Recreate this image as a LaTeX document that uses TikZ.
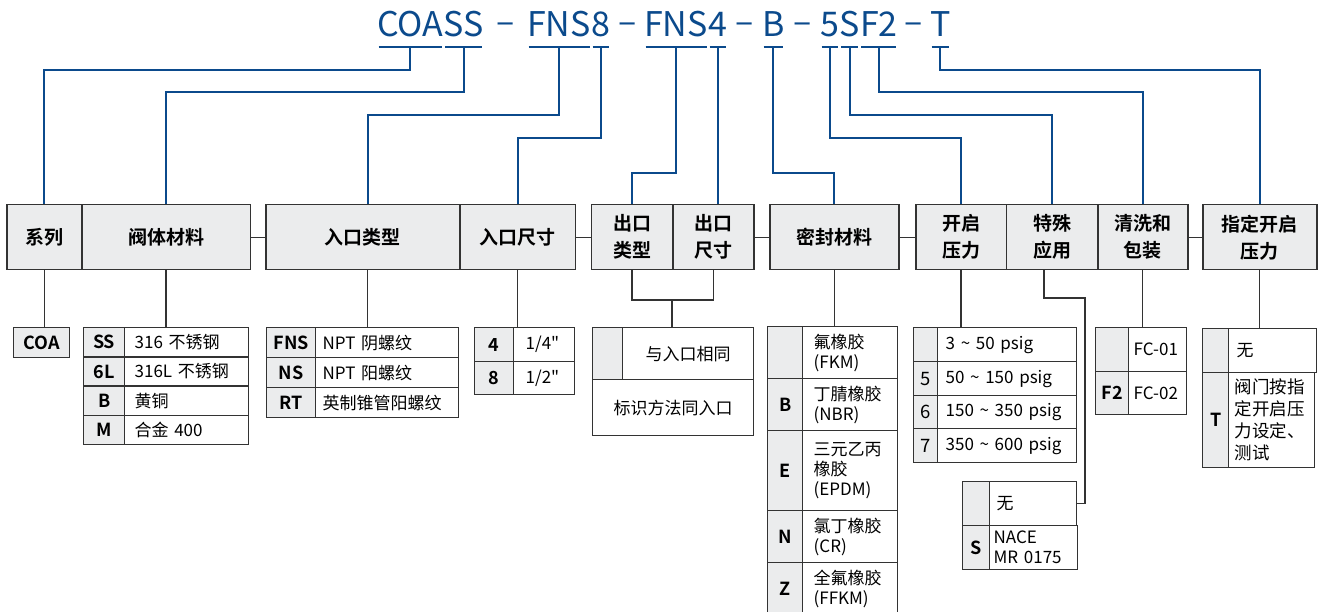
\documentclass[tikz,border=0pt]{standalone}
\usepackage{fontspec}
\setmainfont{Noto Sans CJK SC}[BoldFont={* Bold},Ligatures=TeXOff]
\usetikzlibrary{calc}
\definecolor{tblue}{HTML}{0B4A8C}
\definecolor{cgray}{HTML}{EBECED}
\definecolor{bgray}{HTML}{333333}
\begin{document}
\begin{tikzpicture}[x=1pt,y=-1pt,
  ttl/.style={inner sep=0, text=tblue, font=\fontsize{34}{40}\selectfont, anchor=base west},
  dsh/.style={inner sep=0, text=tblue, font=\fontsize{34}{40}\selectfont, anchor=base, yshift=3pt},
  ul/.style={draw=tblue, line width=2.5},
  bl/.style={draw=tblue, line width=2},
  hd/.style={draw=bgray, line width=1.5, fill=cgray, anchor=north west, minimum height=65, inner sep=0, align=center, font=\bfseries\fontsize{19}{27}\selectfont},
  gl/.style={draw=bgray, line width=1.3},
  cell/.style={draw=bgray, line width=1.3, anchor=north west, inner sep=0},
  code/.style={cell, fill=cgray, align=center, font=\bfseries\fontsize{18}{20}\selectfont},
  coder/.style={cell, fill=cgray, align=center, font=\fontsize{18.5}{20}\selectfont},
  desc/.style={cell, fill=white, align=left, font=\fontsize{17}{20}\selectfont},
  descc/.style={cell, fill=white, align=center, font=\fontsize{17}{20}\selectfont}]
\useasboundingbox[fill=white] (0,0) rectangle (1318,612);

% ---------- title ----------
\node[ttl] (t1) at (377,37) {COA};
\node[ttl] (t2) at (t1.base east) {SS};
\node[ttl] (t3) at (527,37) {FNS};
\node[ttl] (t4) at (t3.base east) {8};
\node[ttl] (t5) at (644,37) {FNS};
\node[ttl] (t6) at (t5.base east) {4};
\node[ttl] (t7) at (762,37) {B};
\node[ttl] (t8) at (820,37) {5};
\node[ttl] (t9) at (t8.base east) {S};
\node[ttl] (t10) at (t9.base east) {F2};
\node[ttl] (t11) at (930,37) {T};
\node[dsh] (d1) at ($(t2.base east)!0.5!(t3.base west)$) {–};
\node[dsh] (d2) at ($(t4.base east)!0.5!(t5.base west)$) {–};
\node[dsh] (d3) at ($(t6.base east)!0.5!(t7.base west)$) {–};
\node[dsh] (d4) at ($(t7.base east)!0.5!(t8.base west)$) {–};
\node[dsh] (d5) at ($(t10.base east)!0.5!(t11.base west)$) {–};
\foreach \n in {t1,t2,t3,t4,t5,t6,t7,t8,t9,t10,t11}
  \draw[ul] ($(\n.west|-0,47)+(1.5,0)$) -- ($(\n.east|-0,47)+(-1.5,0)$);

% ---------- header boxes ----------
\node[hd, minimum width=75] (h1) at (6,204) {系列};
\node[hd, minimum width=168.5] (h2) at (81,204) {阀体材料};
\node[hd, minimum width=194] (h3) at (265,204) {入口类型};
\node[hd, minimum width=115.5] (h4) at (459,204) {入口尺寸};
\node[hd, minimum width=81.5] (h5) at (590.5,204) {出口\\类型};
\node[hd, minimum width=81] (h6) at (672,204) {出口\\尺寸};
\node[hd, minimum width=129] (h7) at (769,204) {密封材料};
\node[hd, minimum width=90.5] (h8) at (915,204) {开启\\压力};
\node[hd, minimum width=91.5] (h9) at (1005.5,204) {特殊\\应用};
\node[hd, minimum width=90] (h10) at (1097,204) {清洗和\\包装};
\node[hd, minimum width=114] (h11) at (1202,204) {指定开启\\压力};

\draw[gl] (h2.east) -- (h3.west);
\draw[gl] (h4.east) -- (h5.west);
\draw[gl] (h6.east) -- (h7.west);
\draw[gl] (h7.east) -- (h8.west);
\draw[gl] (h10.east) -- (h11.west);

% ---------- blue connectors ----------
\draw[bl] (t1.south|-0,47) -- (t1.south|-0,70) -| (h1.north);
\draw[bl] (t2.south|-0,47) -- (t2.south|-0,92) -| (h2.north);
\draw[bl] (t3.south|-0,47) -- (t3.south|-0,115) -| ([xshift=5]h3.north);
\draw[bl] (t4.south|-0,47) -- (t4.south|-0,138) -| (h4.north);
\draw[bl] (t5.south|-0,47) -- (t5.south|-0,173) -| (h5.north);
\draw[bl] (t6.south|-0,47) -- (t6.south|-h6.north);
\draw[bl] (t7.south|-0,47) -- (t7.south|-0,173) -| (h7.north);
\draw[bl] (t8.south|-0,47) -- (t8.south|-0,138) -| (h8.north);
\draw[bl] (t9.south|-0,47) -- (t9.south|-0,115) -| (h9.north);
\draw[bl] (t10.south|-0,47) -- (t10.south|-0,92) -| (h10.north);
\draw[bl] (t11.south|-0,47) -- (t11.south|-0,70) -| (h11.north);

% ---------- series ----------
\node[code, minimum width=56, minimum height=30] (coa) at (13,327) {COA};
\draw[gl] (h1.south) -- (h1.south|-coa.north);

% ---------- body material ----------
\node[code, minimum width=41, minimum height=29.25] (ss1c) at (83,327) {SS};
\node[desc, text width=104, inner xsep=10, minimum height=29.25] (ss1d) at (124,327) {316 不锈钢};
\node[code, minimum width=41, minimum height=29.25] (ss2c) at (83,356.25) {6L};
\node[desc, text width=104, inner xsep=10, minimum height=29.25] (ss2d) at (124,356.25) {316L 不锈钢};
\node[code, minimum width=41, minimum height=29.25] (ss3c) at (83,385.5) {B};
\node[desc, text width=104, inner xsep=10, minimum height=29.25] (ss3d) at (124,385.5) {黄铜};
\node[code, minimum width=41, minimum height=29.25] (ss4c) at (83,414.75) {M};
\node[desc, text width=104, inner xsep=10, minimum height=29.25] (ss4d) at (124,414.75) {合金 400};
\draw[gl] (h2.south) -- (h2.south|-ss1d.north);

% ---------- inlet type ----------
\node[code, minimum width=49, minimum height=30] (fn1c) at (266,327) {FNS};
\node[desc, text width=129, inner xsep=7, minimum height=30] (fn1d) at (315,327) {NPT 阴螺纹};
\node[code, minimum width=49, minimum height=30] (fn2c) at (266,357) {NS};
\node[desc, text width=129, inner xsep=7, minimum height=30] (fn2d) at (315,357) {NPT 阳螺纹};
\node[code, minimum width=49, minimum height=30] (fn3c) at (266,387) {RT};
\node[desc, text width=129, inner xsep=7, minimum height=30] (fn3d) at (315,387) {英制锥管阳螺纹};
\draw[gl] ([xshift=5]h3.south) -- ([xshift=5]h3.south|-fn1d.north);

% ---------- inlet size ----------
\node[code, minimum width=39, minimum height=34] (sz1c) at (474,327) {4};
\node[desc, text width=37, inner xsep=12, minimum height=34] (sz1d) at (513,327) {1/4"};
\node[code, minimum width=39, minimum height=33] (sz2c) at (474,361) {8};
\node[desc, text width=37, inner xsep=12, minimum height=33] (sz2d) at (513,361) {1/2"};
\draw[gl] (h4.south) -- (h4.south|-sz1c.north);

% ---------- outlet ----------
\node[code, minimum width=30, minimum height=52] (ou1c) at (592,327) {};
\node[descc, minimum width=131, minimum height=52] (ou1d) at (622,327) {与入口相同};
\node[descc, minimum width=161, minimum height=56] (ou2) at (592,379) {标识方法同入口};
\coordinate (ob) at (672,300);
\draw[gl] (h5.south) |- (ob) -| (h6.south);
\draw[gl] (ob) -- (ob|-ou1d.north);

% ---------- seal material ----------
\node[code, minimum width=35, minimum height=52] (se1c) at (767,326) {};
\node[desc, text width=73, inner xsep=11, minimum height=52] (se1d) at (802,326) {氟橡胶\\(FKM)};
\node[code, minimum width=35, minimum height=52] (se2c) at (767,378) {B};
\node[desc, text width=73, inner xsep=11, minimum height=52] (se2d) at (802,378) {丁腈橡胶\\(NBR)};
\node[code, minimum width=35, minimum height=80] (se3c) at (767,430) {E};
\node[desc, text width=73, inner xsep=11, minimum height=80] (se3d) at (802,430) {三元乙丙\\橡胶\\(EPDM)};
\node[code, minimum width=35, minimum height=52] (se4c) at (767,510) {N};
\node[desc, text width=73, inner xsep=11, minimum height=52] (se4d) at (802,510) {氯丁橡胶\\(CR)};
\node[code, minimum width=35, minimum height=52] (se5c) at (767,562) {Z};
\node[desc, text width=73, inner xsep=11, minimum height=52] (se5d) at (802,562) {全氟橡胶\\(FFKM)};
\draw[gl] (h7.south) -- (h7.south|-se1d.north);

% ---------- cracking pressure ----------
\node[coder, minimum width=24, minimum height=34] (pr1c) at (913,327) {};
\node[desc, text width=123, inner xsep=8, minimum height=34] (pr1d) at (937,327) {3 \textasciitilde{} 50 psig};
\node[coder, minimum width=24, minimum height=34] (pr2c) at (913,361) {5};
\node[desc, text width=123, inner xsep=8, minimum height=34] (pr2d) at (937,361) {50 \textasciitilde{} 150 psig};
\node[coder, minimum width=24, minimum height=33] (pr3c) at (913,395) {6};
\node[desc, text width=123, inner xsep=8, minimum height=33] (pr3d) at (937,395) {150 \textasciitilde{} 350 psig};
\node[coder, minimum width=24, minimum height=34] (pr4c) at (913,428) {7};
\node[desc, text width=123, inner xsep=8, minimum height=34] (pr4d) at (937,428) {350 \textasciitilde{} 600 psig};
\draw[gl] (h8.south) -- (h8.south|-pr1d.north);

% ---------- special application ----------
\node[code, minimum width=27, minimum height=44] (sp1c) at (962,481) {};
\node[desc, text width=73, inner xsep=7, minimum height=44] (sp1d) at (989,481) {无};
\node[code, minimum width=27, minimum height=44] (sp2c) at (962,525) {S};
\node[desc, text width=80, inner xsep=4, minimum height=44] (sp2d) at (989,525) {NACE\\MR 0175};
\coordinate (k1) at (1085,298);
\draw[gl] ([xshift=-8]h9.south) |- (k1) |- (sp1d.east);

% ---------- cleaning ----------
\node[code, minimum width=33, minimum height=44] (cl1c) at (1095,327) {};
\node[desc, text width=48, inner xsep=5, minimum height=44] (cl1d) at (1128,327) {\mbox{FC-01}};
\node[code, minimum width=33, minimum height=43] (cl2c) at (1095,371) {F2};
\node[desc, text width=48, inner xsep=5, minimum height=43] (cl2d) at (1128,371) {\mbox{FC-02}};
\draw[gl] (h10.south) -- (h10.south|-cl1d.north);

% ---------- specified cracking pressure ----------
\node[code, minimum width=26, minimum height=44] (sc1c) at (1202,328) {};
\node[desc, text width=72, inner xsep=8, minimum height=44] (sc1d) at (1228,328) {无};
\node[code, minimum width=26, minimum height=95] (sc2c) at (1202,372) {T};
\node[desc, text width=74, inner xsep=6, minimum height=95, font=\fontsize{17.5}{22}\selectfont] (sc2d) at (1228,372) {阀门按指\\定开启压\\力设定、\\测试};
\draw[gl] (h11.south) -- (h11.south|-sc1d.north);
\end{tikzpicture}
\end{document}
